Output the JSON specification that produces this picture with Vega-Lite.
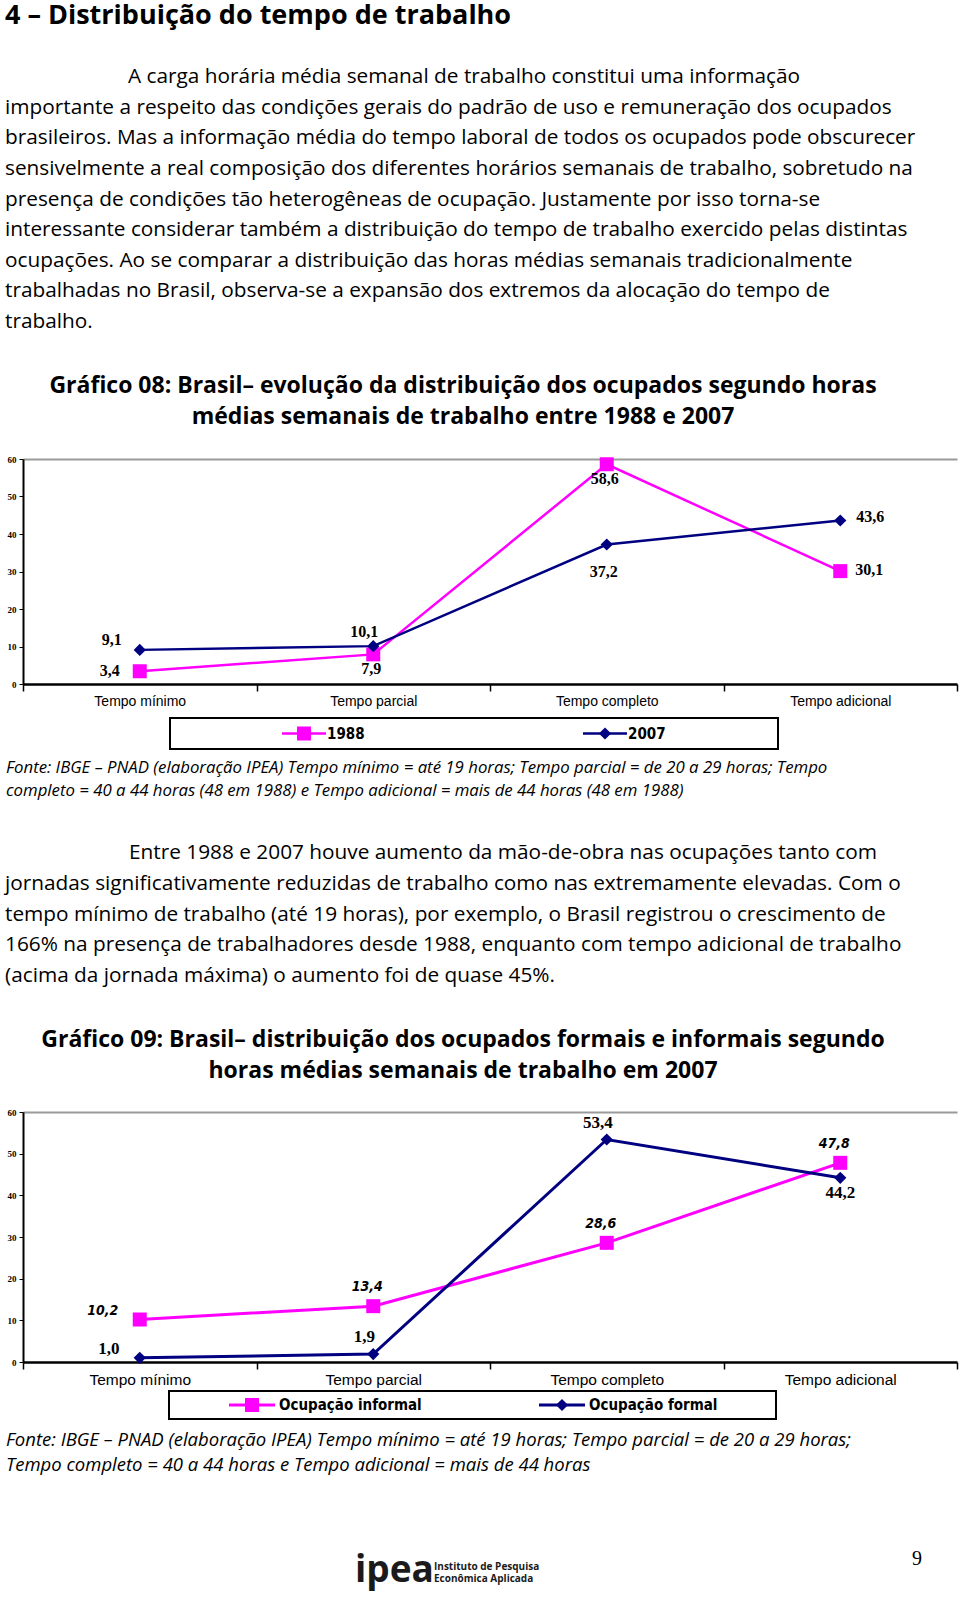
{
  "$schema": "https://vega.github.io/schema/vega-lite/v6.json",
  "padding": 0,
  "background": "white",
  "spacing": 0,
  "bounds": "flush",
  "config": {
    "view": {"stroke": null},
    "locale": {"number": {"decimal": ",", "thousands": ".", "grouping": [3], "currency": ["R$", ""]}}
  },
  "resolve": {"scale": {"color": "independent", "shape": "independent", "size": "independent"}},
  "datasets": {
    "p1": [
      {"line": 1, "t": "A carga horária média semanal de trabalho constitui uma informação"},
      {"line": 2, "t": "importante a respeito das condições gerais do padrão de uso e remuneração dos ocupados"},
      {"line": 3, "t": "brasileiros. Mas a informação média do tempo laboral de todos os ocupados pode obscurecer"},
      {"line": 4, "t": "sensivelmente a real composição dos diferentes horários semanais de trabalho, sobretudo na"},
      {"line": 5, "t": "presença de condições tão heterogêneas de ocupação. Justamente por isso torna-se"},
      {"line": 6, "t": "interessante considerar também a distribuição do tempo de trabalho exercido pelas distintas"},
      {"line": 7, "t": "ocupações. Ao se comparar a distribuição das horas médias semanais tradicionalmente"},
      {"line": 8, "t": "trabalhadas no Brasil, observa-se a expansão dos extremos da alocação do tempo de"},
      {"line": 9, "t": "trabalho."}
    ],
    "p2": [
      {"line": 1, "t": "Entre 1988 e 2007 houve aumento da mão-de-obra nas ocupações tanto com"},
      {"line": 2, "t": "jornadas significativamente reduzidas de trabalho como nas extremamente elevadas. Com o"},
      {"line": 3, "t": "tempo mínimo de trabalho (até 19 horas), por exemplo, o Brasil registrou o crescimento de"},
      {"line": 4, "t": "166% na presença de trabalhadores desde 1988, enquanto com tempo adicional de trabalho"},
      {"line": 5, "t": "(acima da jornada máxima) o aumento foi de quase 45%."}
    ],
    "t1": [
      {"line": 1, "t": "Gráfico 08: Brasil– evolução da distribuição dos ocupados segundo horas"},
      {"line": 2, "t": "médias semanais de trabalho entre 1988 e 2007"}
    ],
    "t2": [
      {"line": 1, "t": "Gráfico 09: Brasil– distribuição dos ocupados formais e informais segundo"},
      {"line": 2, "t": "horas médias semanais de trabalho em 2007"}
    ],
    "f1": [
      {"line": 1, "t": "Fonte: IBGE – PNAD  (elaboração IPEA) Tempo mínimo = até 19 horas; Tempo parcial = de 20 a 29 horas; Tempo"},
      {"line": 2, "t": "completo = 40 a 44 horas (48 em 1988) e Tempo adicional = mais de 44 horas (48 em 1988)"}
    ],
    "f2": [
      {"line": 1, "t": "Fonte: IBGE – PNAD  (elaboração IPEA) Tempo mínimo = até 19 horas; Tempo parcial = de 20 a 29 horas;"},
      {"line": 2, "t": "Tempo completo = 40 a 44 horas  e Tempo adicional = mais de 44 horas"}
    ],
    "g08": [
      {"cat": "Tempo mínimo", "ano": "1988", "value": 3.4},
      {"cat": "Tempo parcial", "ano": "1988", "value": 7.9},
      {"cat": "Tempo completo", "ano": "1988", "value": 58.6},
      {"cat": "Tempo adicional", "ano": "1988", "value": 30.1},
      {"cat": "Tempo mínimo", "ano": "2007", "value": 9.1},
      {"cat": "Tempo parcial", "ano": "2007", "value": 10.1},
      {"cat": "Tempo completo", "ano": "2007", "value": 37.2},
      {"cat": "Tempo adicional", "ano": "2007", "value": 43.6}
    ],
    "g09": [
      {"cat": "Tempo mínimo", "ocup": "Ocupação informal", "value": 10.2},
      {"cat": "Tempo parcial", "ocup": "Ocupação informal", "value": 13.4},
      {"cat": "Tempo completo", "ocup": "Ocupação informal", "value": 28.6},
      {"cat": "Tempo adicional", "ocup": "Ocupação informal", "value": 47.8},
      {"cat": "Tempo mínimo", "ocup": "Ocupação formal", "value": 1.0},
      {"cat": "Tempo parcial", "ocup": "Ocupação formal", "value": 1.9},
      {"cat": "Tempo completo", "ocup": "Ocupação formal", "value": 53.4},
      {"cat": "Tempo adicional", "ocup": "Ocupação formal", "value": 44.2}
    ]
  },
  "vconcat": [
    {
      "width": 960, "height": 32,
      "data": {"values": [{"t": "4 – Distribuição do tempo de trabalho"}]},
      "mark": {"type": "text", "align": "left", "baseline": "middle", "x": 5, "font": "Open Sans", "fontSize": 27, "fontWeight": "bold", "color": "black"},
      "encoding": {"text": {"field": "t"}}
    },
    {"width": 960, "height": 30, "data": {"values": []}, "mark": "point"},
    {
      "width": 960, "height": 275,
      "data": {"name": "p1"},
      "encoding": {
        "y": {"field": "line", "type": "ordinal", "scale": {"type": "point", "padding": 0.5}, "axis": null},
        "text": {"field": "t"}
      },
      "layer": [
        {"transform": [{"filter": "datum.line == 1"}], "mark": {"type": "text", "align": "left", "baseline": "middle", "x": 128, "font": "Open Sans", "fontSize": 20.8, "color": "black"}},
        {"transform": [{"filter": "datum.line > 1"}], "mark": {"type": "text", "align": "left", "baseline": "middle", "x": 5, "font": "Open Sans", "fontSize": 20.8, "color": "black"}}
      ]
    },
    {"width": 960, "height": 33, "data": {"values": []}, "mark": "point"},
    {
      "width": 960, "height": 62,
      "data": {"name": "t1"},
      "mark": {"type": "text", "align": "center", "baseline": "middle", "x": 463, "font": "Open Sans", "fontSize": 23, "fontWeight": "bold", "color": "black"},
      "encoding": {
        "y": {"field": "line", "type": "ordinal", "scale": {"type": "point", "padding": 0.5}, "axis": null},
        "text": {"field": "t"}
      }
    },
    {"width": 960, "height": 27, "data": {"values": []}, "mark": "point"},
    {
      "width": 957, "height": 225,
      "data": {"name": "g08"},
      "encoding": {
        "x": {"field": "cat", "type": "nominal", "sort": ["Tempo mínimo", "Tempo parcial", "Tempo completo", "Tempo adicional"], "bandPosition": 0.5,
              "scale": {"type": "band", "paddingInner": 0, "paddingOuter": 0, "range": [23, 957]},
              "axis": {"title": null, "labelAngle": 0, "labelFont": "Liberation Sans", "labelFontSize": 14, "labelColor": "black", "labelPadding": 3, "tickBand": "extent", "tickSize": 7, "tickColor": "black", "tickWidth": 1.5, "domainColor": "black", "domainWidth": 2.5, "grid": false}},
        "y": {"field": "value", "type": "quantitative", "scale": {"domain": [0, 60], "nice": false},
              "axis": {"title": null, "offset": -23, "values": [0, 10, 20, 30, 40, 50, 60], "labelFont": "Liberation Serif", "labelFontSize": 9, "labelFontWeight": "bold", "labelColor": "black", "labelPadding": 3, "tickSize": 4, "tickColor": "black", "domainColor": "black", "domainWidth": 2, "grid": true, "gridColor": "#9a9a9a", "gridWidth": 2, "gridOpacity": {"condition": {"test": "datum.value === 60", "value": 1}, "value": 0}}},
        "color": {"field": "ano", "type": "nominal", "scale": {"domain": ["1988", "2007"], "range": ["#FF00FF", "#000080"]}, "legend": null}
      },
      "layer": [
        {"mark": {"type": "line", "strokeWidth": 2.5}},
        {"mark": {"type": "point", "filled": true, "opacity": 1, "strokeWidth": 0},
         "encoding": {
           "shape": {"field": "ano", "type": "nominal", "scale": {"domain": ["1988", "2007"], "range": ["square", "diamond"]}, "legend": null},
           "size": {"field": "ano", "type": "nominal", "scale": {"domain": ["1988", "2007"], "range": [196, 150]}, "legend": null}
         }},
        {"transform": [{"filter": "datum.ano == '1988' && datum.cat == 'Tempo mínimo'"}],
         "mark": {"type": "text", "dx": -30, "dy": 0, "font": "Liberation Serif", "fontSize": 16, "fontWeight": "bold", "color": "black"},
         "encoding": {"text": {"field": "value", "format": ".1f"}, "color": {"value": "black"}}},
        {"transform": [{"filter": "datum.ano == '1988' && (datum.cat == 'Tempo parcial' || datum.cat == 'Tempo completo')"}],
         "mark": {"type": "text", "dx": -2, "dy": 15, "font": "Liberation Serif", "fontSize": 16, "fontWeight": "bold", "color": "black"},
         "encoding": {"text": {"field": "value", "format": ".1f"}, "color": {"value": "black"}}},
        {"transform": [{"filter": "datum.ano == '1988' && datum.cat == 'Tempo adicional'"}],
         "mark": {"type": "text", "dx": 29, "dy": -1, "font": "Liberation Serif", "fontSize": 16, "fontWeight": "bold", "color": "black"},
         "encoding": {"text": {"field": "value", "format": ".1f"}, "color": {"value": "black"}}},
        {"transform": [{"filter": "datum.ano == '2007' && datum.cat == 'Tempo mínimo'"}],
         "mark": {"type": "text", "dx": -28, "dy": -10, "font": "Liberation Serif", "fontSize": 16, "fontWeight": "bold", "color": "black"},
         "encoding": {"text": {"field": "value", "format": ".1f"}, "color": {"value": "black"}}},
        {"transform": [{"filter": "datum.ano == '2007' && datum.cat == 'Tempo parcial'"}],
         "mark": {"type": "text", "dx": -9, "dy": -14, "font": "Liberation Serif", "fontSize": 16, "fontWeight": "bold", "color": "black"},
         "encoding": {"text": {"field": "value", "format": ".1f"}, "color": {"value": "black"}}},
        {"transform": [{"filter": "datum.ano == '2007' && datum.cat == 'Tempo completo'"}],
         "mark": {"type": "text", "dx": -3, "dy": 27, "font": "Liberation Serif", "fontSize": 16, "fontWeight": "bold", "color": "black"},
         "encoding": {"text": {"field": "value", "format": ".1f"}, "color": {"value": "black"}}},
        {"transform": [{"filter": "datum.ano == '2007' && datum.cat == 'Tempo adicional'"}],
         "mark": {"type": "text", "dx": 30, "dy": -4, "font": "Liberation Serif", "fontSize": 16, "fontWeight": "bold", "color": "black"},
         "encoding": {"text": {"field": "value", "format": ".1f"}, "color": {"value": "black"}}}
      ]
    },
    {"width": 960, "height": 34, "data": {"values": []}, "mark": "point"},
    {
      "width": 960, "height": 31,
      "layer": [
        {"data": {"values": [{"box": "legenda"}]},
         "mark": {"type": "rect", "filled": false, "stroke": "black", "strokeWidth": 2},
         "encoding": {"x": {"value": 170}, "x2": {"value": 778}, "y": {"value": 0}, "y2": {"value": 31}}},
        {"data": {"values": [{"ano": "1988"}, {"ano": "2007"}]},
         "encoding": {
           "x": {"field": "ano", "type": "nominal", "scale": {"type": "point", "padding": 0, "range": [304, 605]}, "axis": null},
           "color": {"field": "ano", "type": "nominal", "scale": {"domain": ["1988", "2007"], "range": ["#FF00FF", "#000080"]}, "legend": null}
         },
         "layer": [
           {"mark": {"type": "point", "shape": "M-1,0L1,0", "size": 1936, "filled": false, "strokeWidth": 2.5, "opacity": 1}},
           {"mark": {"type": "point", "filled": true, "opacity": 1, "strokeWidth": 0},
            "encoding": {
              "shape": {"field": "ano", "type": "nominal", "scale": {"domain": ["1988", "2007"], "range": ["square", "diamond"]}, "legend": null},
              "size": {"field": "ano", "type": "nominal", "scale": {"domain": ["1988", "2007"], "range": [196, 150]}, "legend": null}
            }},
           {"mark": {"type": "text", "align": "left", "baseline": "middle", "dx": 23, "font": "DejaVu Sans Condensed, Liberation Sans, sans-serif", "fontSize": 15, "fontWeight": "bold"},
            "encoding": {"text": {"field": "ano"}, "color": {"value": "black"}}}
         ]}
      ]
    },
    {"width": 960, "height": 7, "data": {"values": []}, "mark": "point"},
    {
      "width": 960, "height": 47,
      "data": {"name": "f1"},
      "mark": {"type": "text", "align": "left", "baseline": "middle", "x": 6, "font": "Open Sans", "fontSize": 16.8, "fontStyle": "italic", "color": "black"},
      "encoding": {
        "y": {"field": "line", "type": "ordinal", "scale": {"type": "point", "padding": 0.5}, "axis": null},
        "text": {"field": "t"}
      }
    },
    {"width": 960, "height": 35, "data": {"values": []}, "mark": "point"},
    {
      "width": 960, "height": 153,
      "data": {"name": "p2"},
      "encoding": {
        "y": {"field": "line", "type": "ordinal", "scale": {"type": "point", "padding": 0.5}, "axis": null},
        "text": {"field": "t"}
      },
      "layer": [
        {"transform": [{"filter": "datum.line == 1"}], "mark": {"type": "text", "align": "left", "baseline": "middle", "x": 129, "font": "Open Sans", "fontSize": 20.8, "color": "black"}},
        {"transform": [{"filter": "datum.line > 1"}], "mark": {"type": "text", "align": "left", "baseline": "middle", "x": 5, "font": "Open Sans", "fontSize": 20.8, "color": "black"}}
      ]
    },
    {"width": 960, "height": 34, "data": {"values": []}, "mark": "point"},
    {
      "width": 960, "height": 61,
      "data": {"name": "t2"},
      "mark": {"type": "text", "align": "center", "baseline": "middle", "x": 463, "font": "Open Sans", "fontSize": 23, "fontWeight": "bold", "color": "black"},
      "encoding": {
        "y": {"field": "line", "type": "ordinal", "scale": {"type": "point", "padding": 0.5}, "axis": null},
        "text": {"field": "t"}
      }
    },
    {"width": 960, "height": 26, "data": {"values": []}, "mark": "point"},
    {
      "width": 957, "height": 250,
      "data": {"name": "g09"},
      "encoding": {
        "x": {"field": "cat", "type": "nominal", "sort": ["Tempo mínimo", "Tempo parcial", "Tempo completo", "Tempo adicional"], "bandPosition": 0.5,
              "scale": {"type": "band", "paddingInner": 0, "paddingOuter": 0, "range": [23, 957]},
              "axis": {"title": null, "labelAngle": 0, "labelFont": "Liberation Sans", "labelFontSize": 15.5, "labelColor": "black", "labelPadding": 3, "tickBand": "extent", "tickSize": 7, "tickColor": "black", "tickWidth": 1.5, "domainColor": "black", "domainWidth": 2.5, "grid": false}},
        "y": {"field": "value", "type": "quantitative", "scale": {"domain": [0, 60], "nice": false},
              "axis": {"title": null, "offset": -23, "values": [0, 10, 20, 30, 40, 50, 60], "labelFont": "Liberation Serif", "labelFontSize": 9, "labelFontWeight": "bold", "labelColor": "black", "labelPadding": 3, "tickSize": 4, "tickColor": "black", "domainColor": "black", "domainWidth": 2, "grid": true, "gridColor": "#9a9a9a", "gridWidth": 2, "gridOpacity": {"condition": {"test": "datum.value === 60", "value": 1}, "value": 0}}},
        "color": {"field": "ocup", "type": "nominal", "scale": {"domain": ["Ocupação informal", "Ocupação formal"], "range": ["#FF00FF", "#000080"]}, "legend": null}
      },
      "layer": [
        {"mark": {"type": "line", "strokeWidth": 3}},
        {"mark": {"type": "point", "filled": true, "opacity": 1, "strokeWidth": 0},
         "encoding": {
           "shape": {"field": "ocup", "type": "nominal", "scale": {"domain": ["Ocupação informal", "Ocupação formal"], "range": ["square", "diamond"]}, "legend": null},
           "size": {"field": "ocup", "type": "nominal", "scale": {"domain": ["Ocupação informal", "Ocupação formal"], "range": [196, 150]}, "legend": null}
         }},
        {"transform": [{"filter": "datum.ocup == 'Ocupação informal' && datum.cat == 'Tempo mínimo'"}],
         "mark": {"type": "text", "dx": -37, "dy": -9, "font": "DejaVu Sans Condensed, Liberation Sans, sans-serif", "fontSize": 14, "fontWeight": "bold", "fontStyle": "italic"},
         "encoding": {"text": {"field": "value", "format": ".1f"}, "color": {"value": "black"}}},
        {"transform": [{"filter": "datum.ocup == 'Ocupação informal' && datum.cat != 'Tempo mínimo'"}],
         "mark": {"type": "text", "dx": -6, "dy": -19, "font": "DejaVu Sans Condensed, Liberation Sans, sans-serif", "fontSize": 14, "fontWeight": "bold", "fontStyle": "italic"},
         "encoding": {"text": {"field": "value", "format": ".1f"}, "color": {"value": "black"}}},
        {"transform": [{"filter": "datum.ocup == 'Ocupação formal' && datum.cat == 'Tempo mínimo'"}],
         "mark": {"type": "text", "dx": -31, "dy": -9, "font": "Liberation Serif", "fontSize": 17, "fontWeight": "bold"},
         "encoding": {"text": {"field": "value", "format": ".1f"}, "color": {"value": "black"}}},
        {"transform": [{"filter": "datum.ocup == 'Ocupação formal' && (datum.cat == 'Tempo parcial' || datum.cat == 'Tempo completo')"}],
         "mark": {"type": "text", "dx": -9, "dy": -17, "font": "Liberation Serif", "fontSize": 17, "fontWeight": "bold"},
         "encoding": {"text": {"field": "value", "format": ".1f"}, "color": {"value": "black"}}},
        {"transform": [{"filter": "datum.ocup == 'Ocupação formal' && datum.cat == 'Tempo adicional'"}],
         "mark": {"type": "text", "dx": 0, "dy": 15, "font": "Liberation Serif", "fontSize": 17, "fontWeight": "bold"},
         "encoding": {"text": {"field": "value", "format": ".1f"}, "color": {"value": "black"}}}
      ]
    },
    {"width": 960, "height": 29, "data": {"values": []}, "mark": "point"},
    {
      "width": 960, "height": 28,
      "layer": [
        {"data": {"values": [{"box": "legenda"}]},
         "mark": {"type": "rect", "filled": false, "stroke": "black", "strokeWidth": 2},
         "encoding": {"x": {"value": 169}, "x2": {"value": 776}, "y": {"value": 0}, "y2": {"value": 28}}},
        {"data": {"values": [{"ocup": "Ocupação informal"}, {"ocup": "Ocupação formal"}]},
         "encoding": {
           "x": {"field": "ocup", "type": "nominal", "sort": ["Ocupação informal", "Ocupação formal"], "scale": {"type": "point", "padding": 0, "range": [252, 562]}, "axis": null},
           "color": {"field": "ocup", "type": "nominal", "scale": {"domain": ["Ocupação informal", "Ocupação formal"], "range": ["#FF00FF", "#000080"]}, "legend": null}
         },
         "layer": [
           {"mark": {"type": "point", "shape": "M-1,0L1,0", "size": 2116, "filled": false, "strokeWidth": 3, "opacity": 1}},
           {"mark": {"type": "point", "filled": true, "opacity": 1, "strokeWidth": 0},
            "encoding": {
              "shape": {"field": "ocup", "type": "nominal", "scale": {"domain": ["Ocupação informal", "Ocupação formal"], "range": ["square", "diamond"]}, "legend": null},
              "size": {"field": "ocup", "type": "nominal", "scale": {"domain": ["Ocupação informal", "Ocupação formal"], "range": [196, 150]}, "legend": null}
            }},
           {"mark": {"type": "text", "align": "left", "baseline": "middle", "dx": 27, "font": "DejaVu Sans Condensed, Liberation Sans, sans-serif", "fontSize": 15, "fontWeight": "bold"},
            "encoding": {"text": {"field": "ocup"}, "color": {"value": "black"}}}
         ]}
      ]
    },
    {"width": 960, "height": 9, "data": {"values": []}, "mark": "point"},
    {
      "width": 960, "height": 49,
      "data": {"name": "f2"},
      "mark": {"type": "text", "align": "left", "baseline": "middle", "x": 6, "font": "Open Sans", "fontSize": 18.5, "fontStyle": "italic", "color": "black"},
      "encoding": {
        "y": {"field": "line", "type": "ordinal", "scale": {"type": "point", "padding": 0.5}, "axis": null},
        "text": {"field": "t"}
      }
    },
    {"width": 960, "height": 63, "data": {"values": []}, "mark": "point"},
    {
      "width": 960, "height": 57,
      "layer": [
        {"data": {"values": [{"t": "ipea"}]}, "mark": {"type": "text", "align": "left", "baseline": "alphabetic", "x": 355, "y": 42, "font": "Open Sans", "fontSize": 37, "fontWeight": "bold", "color": "#1a1a1a"}, "encoding": {"text": {"field": "t"}}},
        {"data": {"values": [{"t": "Instituto de Pesquisa"}]}, "mark": {"type": "text", "align": "left", "baseline": "alphabetic", "x": 434, "y": 30, "font": "Open Sans", "fontSize": 10, "fontWeight": "bold", "color": "#1a1a1a"}, "encoding": {"text": {"field": "t"}}},
        {"data": {"values": [{"t": "Econômica Aplicada"}]}, "mark": {"type": "text", "align": "left", "baseline": "alphabetic", "x": 434, "y": 42, "font": "Open Sans", "fontSize": 10, "fontWeight": "bold", "color": "#1a1a1a"}, "encoding": {"text": {"field": "t"}}},
        {"data": {"values": [{"t": "9"}]}, "mark": {"type": "text", "align": "center", "baseline": "alphabetic", "x": 917, "y": 25, "font": "Liberation Serif", "fontSize": 20, "color": "black"}, "encoding": {"text": {"field": "t"}}}
      ]
    }
  ]
}
